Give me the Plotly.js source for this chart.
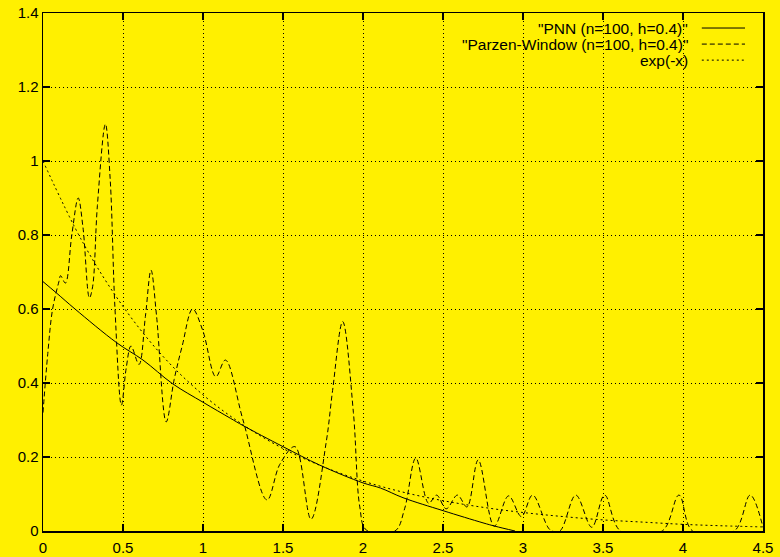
<!DOCTYPE html>
<html>
<head>
<meta charset="utf-8">
<script src="https://cdn.plot.ly/plotly-3.0.1.min.js"></script>
<style>html,body{margin:0;padding:0;background:#FFF000;}#chart{width:780px;height:557px;}</style>
</head>
<body>
<div id="chart"></div>
<script>
// PNN (n=100, h=0.4)
const pnnX = [0, 0.085, 0.2, 0.46, 0.625, 0.81, 1.0, 1.17, 1.25, 1.5, 1.73, 2.0, 2.11, 2.25, 2.5, 2.75, 2.825, 2.95];
const pnnY = [0.674, 0.643, 0.60, 0.509, 0.462, 0.398, 0.348, 0.305, 0.285, 0.228, 0.178, 0.13, 0.116, 0.09, 0.055, 0.022, 0.013, 0.0];

// Parzen-Window (n=100, h=0.4)
const parzenX = [0, 0.03, 0.06, 0.1, 0.11, 0.14, 0.18, 0.22, 0.25, 0.29, 0.31, 0.34, 0.39, 0.42, 0.45, 0.49, 0.52, 0.55, 0.60, 0.64, 0.675, 0.71, 0.77, 0.82, 0.87, 0.935, 1.0, 1.08, 1.14, 1.25, 1.40, 1.48, 1.575, 1.675, 1.77, 1.81, 1.873, 1.94, 1.98, 2.02, 2.2, 2.26, 2.33, 2.41, 2.46, 2.52, 2.59, 2.65, 2.72, 2.82, 2.91, 2.99, 3.06, 3.17, 3.23, 3.33, 3.43, 3.51, 3.61, 3.87, 3.975, 4.06, 4.32, 4.42, 4.5];
const parzenY = [0.32, 0.48, 0.60, 0.675, 0.69, 0.67, 0.80, 0.90, 0.82, 0.63, 0.66, 0.88, 1.10, 0.95, 0.60, 0.34, 0.44, 0.50, 0.45, 0.58, 0.705, 0.58, 0.295, 0.41, 0.50, 0.60, 0.54, 0.417, 0.462, 0.30, 0.084, 0.18, 0.228, 0.032, 0.24, 0.38, 0.566, 0.32, 0.065, 0.003, 0.0, 0.06, 0.197, 0.075, 0.097, 0.06, 0.097, 0.065, 0.192, 0.013, 0.095, 0.039, 0.097, 0.003, 0.0, 0.097, 0.01, 0.097, 0.0, 0.0, 0.097, 0.0, 0.0, 0.097, 0.01];

// exp(-x)
const expX = [0, 0.25, 0.5, 0.75, 1.0, 1.25, 1.5, 1.75, 2.0, 2.25, 2.5, 2.75, 3.0, 3.25, 3.5, 3.75, 4.0, 4.25, 4.5];
const expY = [1.0, 0.779, 0.607, 0.472, 0.368, 0.287, 0.223, 0.174, 0.135, 0.105, 0.082, 0.064, 0.050, 0.039, 0.030, 0.024, 0.018, 0.014, 0.011];

const legendNames = ['"PNN (n=100, h=0.4)"', '"Parzen-Window (n=100, h=0.4)"', 'exp(-x)'];
const xTicks = [0, 0.5, 1, 1.5, 2, 2.5, 3, 3.5, 4, 4.5];
const xTickText = ['0', '0.5', '1', '1.5', '2', '2.5', '3', '3.5', '4', '4.5'];
const yTicks = [0, 0.2, 0.4, 0.6, 0.8, 1.0, 1.2, 1.4];
const yTickText = ['0', '0.2', '0.4', '0.6', '0.8', '1', '1.2', '1.4'];

const dashes = ['solid', '5px,3px', '2px,3px'];
const traces = [
  {x: pnnX, y: pnnY, name: legendNames[0], mode: 'lines', line: {color: '#000', width: 1, shape: 'spline', dash: dashes[0]}},
  {x: parzenX, y: parzenY, name: legendNames[1], mode: 'lines', line: {color: '#000', width: 1, shape: 'spline', smoothing: 1, dash: dashes[1]}},
  {x: expX, y: expY, name: legendNames[2], mode: 'lines', line: {color: '#000', width: 1, shape: 'spline', dash: dashes[2]}}
];

const tickFont = {family: '"Liberation Sans", Arial, sans-serif', size: 15, color: '#000'};
const legFont = {family: '"Liberation Sans", Arial, sans-serif', size: 15.5, color: '#000'};
const rowY = [0.971, 0.940, 0.909];
const annotations = [];
const shapes = [];
for (let i = 0; i < 3; i++) {
  annotations.push({xref: 'paper', yref: 'paper', x: 0.8986, y: rowY[i], xanchor: 'right', yanchor: 'middle', text: legendNames[i], showarrow: false, font: legFont});
  shapes.push({type: 'line', xref: 'paper', yref: 'paper', x0: 0.915, x1: 0.975, y0: rowY[i], y1: rowY[i], line: {color: '#000', width: 1, dash: dashes[i]}});
}

const axisCommon = {
  showline: true, mirror: 'allticks', linecolor: '#000', linewidth: 1.5,
  ticks: 'inside', ticklen: 7, tickcolor: '#000', tickwidth: 1.5,
  showgrid: true, gridcolor: '#000', gridwidth: 1, griddash: '1px,3px',
  zeroline: false, tickfont: tickFont, tickmode: 'array'
};

const layout = {
  width: 780, height: 557,
  paper_bgcolor: '#FFF000', plot_bgcolor: '#FFF000',
  margin: {l: 43, r: 17, t: 13, b: 26},
  showlegend: false,
  xaxis: Object.assign({}, axisCommon, {range: [0, 4.5], tickvals: xTicks, ticktext: xTickText, ticklabelstandoff: 2}),
  yaxis: Object.assign({}, axisCommon, {range: [0, 1.4], tickvals: yTicks, ticktext: yTickText}),
  annotations: annotations,
  shapes: shapes
};

Plotly.newPlot('chart', traces, layout, {displayModeBar: false, staticPlot: true});
</script>
</body>
</html>
